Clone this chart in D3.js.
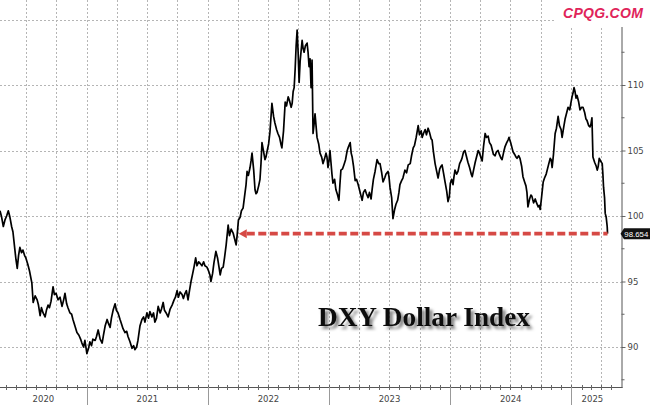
<!DOCTYPE html>
<html>
<head>
<meta charset="utf-8">
<script src="https://cdn.jsdelivr.net/npm/d3@7"></script>
<style>
  html, body { margin: 0; padding: 0; background: #fff; }
  svg { display: block; }
</style>
</head>
<body>
<svg id="chart" width="650" height="405"></svg>
<script>
// ---------------- DATA ----------------
const startDate = "2020-04-14";
const endDomainDate = "2025-05-08";
// days since startDate
const dayOffsets = [0,5,10,15,20,25,30,35,39,45,48,52,56,60,65,69,74,78,84,89,96,100,106,112,116,121,125,130,136,140,145,149,154,160,164,169,175,181,187,192,196,201,205,211,216,220,226,232,238,243,247,252,256,262,267,271,276,280,287,291,296,302,308,312,317,323,327,332,336,341,347,351,356,362,366,371,377,382,386,392,398,403,407,412,416,422,428,433,437,443,448,452,458,463,467,472,477,483,487,492,496,501,507,513,519,525,529,534,538,543,549,553,558,562,567,572,576,581,585,590,594,599,603,609,614,618,624,629,633,636,641,645,651,656,661,664,668,673,677,682,688,692,697,703,707,712,715,719,724,728,733,737,742,745,749,754,757,760,765,769,772,775,780,784,787,790,795,799,802,805,810,814,817,820,825,829,834,838,843,847,850,855,860,864,869,873,878,881,884,887,890,893,896,899,902,905,911,914,917,921,926,929,932,935,938,941,944,947,950,953,956,961,965,970,974,979,983,986,989,992,995,998,1001,1004,1009,1013,1018,1022,1025,1028,1033,1037,1042,1047,1051,1056,1059,1062,1066,1071,1075,1080,1084,1089,1092,1096,1101,1105,1110,1114,1119,1122,1126,1131,1137,1142,1146,1151,1155,1160,1164,1170,1173,1176,1181,1185,1190,1194,1199,1203,1206,1211,1215,1221,1226,1231,1237,1241,1246,1250,1255,1261,1265,1270,1273,1277,1282,1286,1291,1295,1300,1303,1307,1312,1316,1321,1326,1330,1333,1338,1342,1347,1351,1355,1358,1362,1366,1369,1372,1377,1381,1386,1390,1393,1398,1402,1407,1411,1416,1421,1424,1428,1433,1437,1442,1446,1451,1454,1458,1463,1467,1472,1476,1481,1484,1488,1493,1497,1502,1506,1511,1514,1519,1523,1528,1532,1535,1540,1544,1547,1552,1556,1559,1564,1568,1573,1577,1582,1586,1589,1592,1597,1601,1604,1609,1614,1618,1623,1626,1629,1633,1638,1642,1647,1650,1654,1659,1662,1665,1669,1674,1678,1683,1687,1692,1695,1700,1704,1709,1713,1718,1722,1725,1728,1731,1734,1737,1740,1745,1749,1754,1758,1763,1767,1770,1775,1779,1782,1785,1788,1793,1798,1801,1804,1807,1811,1816,1818,1820,1823,1825,1828,1831,1832];
const dxyValues = [100.4,99.9,99.2,99.7,100.0,100.4,99.9,99.2,98.8,97.4,96.7,96.0,97.0,97.6,97.2,97.4,97.0,96.8,96.3,95.8,94.9,93.4,93.9,93.6,93.2,92.4,93.0,92.6,92.3,92.8,93.2,93.0,93.5,94.6,94.0,94.1,93.6,93.8,93.1,93.6,94.1,93.3,93.0,92.6,92.5,92.1,91.6,91.1,90.9,90.6,90.3,90.0,90.5,89.5,89.9,90.4,90.1,90.6,90.5,90.8,91.3,90.6,90.3,90.9,91.6,92.1,91.8,91.5,92.2,92.8,93.3,92.8,92.6,92.1,91.8,91.4,91.1,91.2,90.8,90.4,89.9,90.1,89.8,90.0,90.5,91.6,92.1,92.3,91.9,92.6,92.2,92.7,92.3,92.6,91.9,92.2,93.1,92.6,92.9,93.4,92.8,92.6,92.3,92.9,93.2,93.6,93.8,94.3,93.8,94.2,94.0,93.7,94.1,94.3,93.6,94.4,95.0,95.6,96.1,96.8,96.2,96.5,96.4,96.2,96.5,96.2,96.1,95.8,95.5,95.0,95.6,96.4,97.3,96.8,96.0,95.5,96.0,96.1,96.8,97.8,99.3,98.5,99.0,98.7,98.3,97.8,98.5,99.7,99.9,100.4,100.6,101.4,102.4,103.4,103.1,103.7,104.2,104.8,103.5,102.0,101.7,101.8,102.3,102.8,104.0,105.6,104.9,104.3,104.5,104.9,105.5,106.4,107.5,108.6,107.6,107.1,106.6,106.3,106.0,105.5,105.2,106.5,108.7,108.4,109.1,108.8,108.3,108.6,109.5,109.8,111.2,113.0,114.2,112.5,110.2,111.8,113.4,112.8,112.5,113.0,113.2,112.5,111.4,112.0,109.8,111.9,106.3,107.0,107.8,106.9,106.0,105.5,104.8,104.5,104.0,104.4,104.8,104.5,103.7,104.2,105.0,104.1,103.2,102.5,102.8,102.0,101.6,101.2,102.4,103.5,103.6,103.9,104.3,105.0,105.3,105.6,104.8,104.5,103.8,102.7,102.8,102.4,102.0,101.5,101.2,101.8,102.0,101.7,101.4,101.8,101.3,102.0,102.8,103.4,104.3,104.0,104.0,103.3,102.6,102.9,103.2,103.4,103.0,102.2,101.4,99.8,100.5,100.9,101.2,101.8,102.4,102.7,102.9,103.5,103.3,103.9,104.0,104.6,105.2,105.4,106.0,106.9,106.2,106.5,106.0,106.3,106.6,106.2,106.7,106.4,105.9,105.8,104.9,104.0,103.5,102.9,103.6,103.8,103.9,103.2,102.6,101.9,101.1,101.5,102.5,102.8,102.4,103.0,103.5,103.2,103.4,104.0,104.2,104.4,104.9,105.0,104.5,104.1,103.7,103.2,103.0,103.5,104.1,104.5,105.0,104.8,104.4,104.2,105.3,106.3,106.0,106.1,105.6,105.4,105.1,104.7,104.6,104.9,105.0,104.7,104.4,104.3,104.9,105.3,105.6,105.8,106.0,105.6,105.2,104.9,104.7,104.5,104.4,104.6,104.4,103.8,103.0,102.6,102.3,101.8,100.7,101.3,101.6,101.5,101.0,101.3,101.0,100.7,100.8,100.5,101.4,102.6,102.9,103.2,103.5,103.9,104.4,104.3,103.7,104.7,106.3,106.7,107.6,106.9,106.6,106.0,106.8,107.4,107.9,108.3,108.1,108.7,109.1,109.4,109.8,109.5,109.0,109.2,108.7,108.1,108.3,108.3,107.9,107.4,107.3,106.9,106.8,107.0,107.5,104.5,104.1,103.8,103.5,103.8,104.4,104.2,104.0,103.2,102.2,101.4,100.2,99.9,99.2,98.654];
const yMajorTicks = [90, 95, 100, 105, 110];
const yMinorTicks = [87.5, 92.5, 97.5, 102.5, 107.5, 112.5];
const yGridValues = [90, 95, 100, 105, 110, 115];
const lastValue = 98.654;
const lastLabel = "98.654";
const titleText = "DXY Dollar Index";
const watermarkText = "CPQG.COM";

// ---------------- LAYOUT ----------------
const W = 650, H = 405;
const plotRight = 621.5, axisY = 387;
const svg = d3.select("#chart");

const parse = d3.utcParse("%Y-%m-%d");
const start = parse(startDate), endD = parse(endDomainDate);
const data = dayOffsets.map((d, i) => ({ date: d3.utcDay.offset(start, d), v: dxyValues[i] }));

const x = d3.scaleUtc().domain([start, endD]).range([0, 613.5]);
const y = d3.scaleLinear().domain([90, 110]).range([347, 85]);

const defs = svg.append("defs");
const sh = defs.append("filter").attr("id", "shadow").attr("x", "-10%").attr("y", "-30%").attr("width", "130%").attr("height", "180%");
sh.append("feDropShadow").attr("dx", 3).attr("dy", 3).attr("stdDeviation", 1.8).attr("flood-color", "#000").attr("flood-opacity", 0.5);
const soft = defs.append("filter").attr("id", "soft").attr("x", "-5%").attr("y", "-100%").attr("width", "110%").attr("height", "300%");
soft.append("feGaussianBlur").attr("stdDeviation", 0.5);

// grid
const gGrid = svg.append("g");
gGrid.selectAll("line.h").data(yGridValues).join("line")
  .attr("x1", 0).attr("x2", plotRight)
  .attr("y1", d => Math.round(y(d)) + 0.5).attr("y2", d => Math.round(y(d)) + 0.5)
  .attr("stroke", "#b5b5b5").attr("stroke-width", 1).attr("stroke-dasharray", "2,2");
const quarters = d3.utcMonth.every(3).range(start, endD);
gGrid.selectAll("line.v").data(quarters).join("line")
  .attr("x1", d => Math.round(x(d)) + 0.5).attr("x2", d => Math.round(x(d)) + 0.5)
  .attr("y1", 0).attr("y2", axisY)
  .attr("stroke", "#b5b5b5").attr("stroke-width", 1).attr("stroke-dasharray", "2,2");

// bottom axis
const gx = svg.append("g");
gx.append("line").attr("x1", 0).attr("x2", plotRight + 1).attr("y1", axisY + 0.5).attr("y2", axisY + 0.5)
  .attr("stroke", "#555").attr("stroke-width", 1);
const months = d3.utcMonth.range(start, endD);
gx.selectAll("line.m").data(months).join("line")
  .attr("x1", d => Math.round(x(d)) + 0.5).attr("x2", d => Math.round(x(d)) + 0.5)
  .attr("y1", axisY - 2).attr("y2", axisY + 3)
  .attr("stroke", "#666").attr("stroke-width", 1);
const years = d3.utcYear.range(start, endD);
gx.selectAll("line.y").data(years).join("line")
  .attr("x1", d => Math.round(x(d)) + 0.5).attr("x2", d => Math.round(x(d)) + 0.5)
  .attr("y1", axisY).attr("y2", H)
  .attr("stroke", "#999").attr("stroke-width", 1);
const yearSpans = [start, ...years].map((d, i, arr) => {
  const a = Math.max(x(d), 0);
  const b = i + 1 < arr.length ? x(arr[i + 1]) : 613.5;
  return { label: d3.utcFormat("%Y")(d), cx: (a + b) / 2 };
});
gx.selectAll("text").data(yearSpans).join("text")
  .attr("x", d => d.cx).attr("y", 402)
  .attr("text-anchor", "middle")
  .attr("font-family", "'DejaVu Sans', sans-serif").attr("font-size", 8.5)
  .attr("fill", "#444").text(d => d.label);

// right axis
const gy = svg.append("g").attr("transform", `translate(${plotRight},0)`);
gy.call(d3.axisRight(y).tickValues(yMajorTicks).tickSize(4).tickPadding(2).tickFormat(d3.format("d")));
gy.select(".domain").remove();
gy.append("line").attr("x1", 0.5).attr("x2", 0.5).attr("y1", 0).attr("y2", axisY + 1).attr("stroke", "#555");
gy.selectAll(".tick line").attr("stroke", "#666");
gy.selectAll(".tick text").attr("font-family", "'DejaVu Sans', sans-serif").attr("font-size", 8.5).attr("fill", "#444");
gy.selectAll("line.minor").data(yMinorTicks).join("line")
  .attr("x1", 0).attr("x2", 3).attr("y1", d => y(d)).attr("y2", d => y(d)).attr("stroke", "#666");

// series line
svg.append("path").datum(data)
  .attr("fill", "none").attr("stroke", "#000").attr("stroke-width", 1.7).attr("stroke-linejoin", "round")
  .attr("d", d3.line().x(d => x(d.date)).y(d => y(d.v)));

// red dashed arrow from last crossing of lastValue to the end
let crossX = null;
for (let i = data.length - 2; i > 0; i--) {
  if (data[i].v <= lastValue && data[i + 1].v > lastValue) {
    const t = (lastValue - data[i].v) / (data[i + 1].v - data[i].v);
    crossX = x(data[i].date) + t * (x(data[i + 1].date) - x(data[i].date));
    break;
  }
}
const yl = y(lastValue);
const endX = x(data[data.length - 1].date);
const tipX = crossX + 1.5;
const gArrow = svg.append("g").attr("filter", "url(#soft)");
gArrow.append("line").attr("x1", tipX + 8).attr("x2", endX).attr("y1", yl).attr("y2", yl)
  .attr("stroke", "#d64a45").attr("stroke-width", 3.6).attr("stroke-dasharray", "8,3.5");
gArrow.append("path")
  .attr("d", `M${tipX},${yl} L${tipX + 8},${yl - 4.5} L${tipX + 8},${yl + 4.5} Z`)
  .attr("fill", "#d64a45");

// last value label
svg.append("path")
  .attr("d", `M${plotRight - 1},${yl} L${plotRight + 2.5},${yl - 5.5} L${W},${yl - 5.5} L${W},${yl + 5.5} L${plotRight + 2.5},${yl + 5.5} Z`)
  .attr("fill", "#111");
svg.append("text").attr("x", plotRight + 2.8).attr("y", yl + 3)
  .attr("font-family", "'Liberation Sans', Arial, sans-serif").attr("font-size", 8)
  .attr("textLength", 24).attr("lengthAdjust", "spacingAndGlyphs")
  .attr("fill", "#fff")
  .text(lastLabel);

// title
svg.append("text").attr("x", 318).attr("y", 326)
  .attr("font-family", "'Liberation Serif', 'Times New Roman', serif").attr("font-weight", "bold")
  .attr("font-size", 28).attr("fill", "#111").attr("textLength", 212).attr("lengthAdjust", "spacingAndGlyphs")
  .attr("filter", "url(#shadow)")
  .text(titleText);

// watermark
svg.append("rect").attr("x", 556).attr("y", 0).attr("width", W - 556).attr("height", 27).attr("fill", "#fff");
svg.append("text").attr("x", 563).attr("y", 18)
  .attr("font-family", "'Liberation Sans', Arial, sans-serif").attr("font-weight", "bold").attr("font-style", "italic")
  .attr("font-size", 14).attr("fill", "#e0245a").attr("letter-spacing", 0.3)
  .text(watermarkText);
</script>
</body>
</html>
